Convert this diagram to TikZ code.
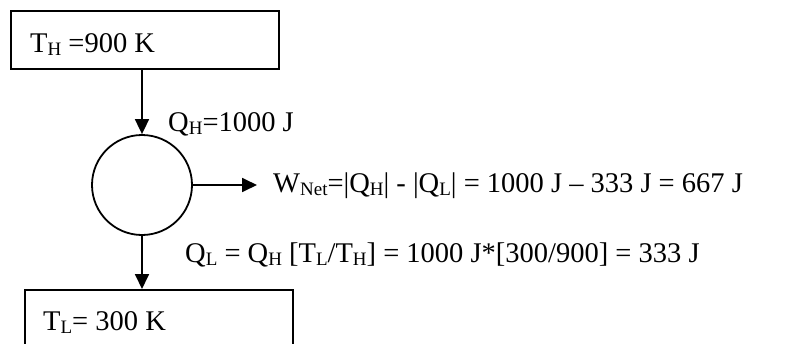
\documentclass[tikz,border=0pt]{standalone}
\usepackage{fontspec}
\setmainfont{Liberation Serif}
\usetikzlibrary{arrows.meta}
\newcommand{\subs}[1]{\raisebox{-0.13em}{\fontsize{19pt}{19pt}\selectfont #1}}
\tikzset{
  box/.style={draw, line width=1.8pt, rectangle, inner sep=0pt},
  arr/.style={line width=1.8pt, -{Triangle[length=15pt,width=14pt]}},
  lbl/.style={anchor=base west, inner sep=0pt, font=\fontsize{28.5pt}{31pt}\selectfont}
}
\begin{document}
\begin{tikzpicture}[x=1pt,y=-1pt]
\clip (0,0) rectangle (809,343);
\node[box, anchor=north west, minimum width=268pt, minimum height=58pt] (hot) at (10,10) {};
\node[lbl] (hottext) at (30,52) {T\subs{H} =900 K};
\node[draw, circle, line width=1.8pt, minimum size=100pt, inner sep=0pt] (engine) at (142,185) {};
\node[box, anchor=north west, minimum width=268pt, minimum height=90pt] (cold) at (24,289) {};
\node[lbl] (coldtext) at (43,330) {T\subs{L}= 300 K};
\coordinate (wend) at (257,185);
\draw[arr] (engine |- hot.south) -- (engine.north);
\draw[arr] (engine.east) -- (wend);
\draw[arr] (engine.south) -- (engine |- cold.north);
\node[lbl] (qh) at (168,131) {Q\subs{H}=1000 J};
\node[lbl] (wnet) at (273,192) {W\subs{Net}=|Q\subs{H}| - |Q\subs{L}| = 1000 J – 333 J = 667 J};
\node[lbl] (ql) at (185,262) {Q\subs{L} = Q\subs{H} [T\subs{L}/T\subs{H}] = 1000 J*[300/900] = 333 J};
\end{tikzpicture}
\end{document}
